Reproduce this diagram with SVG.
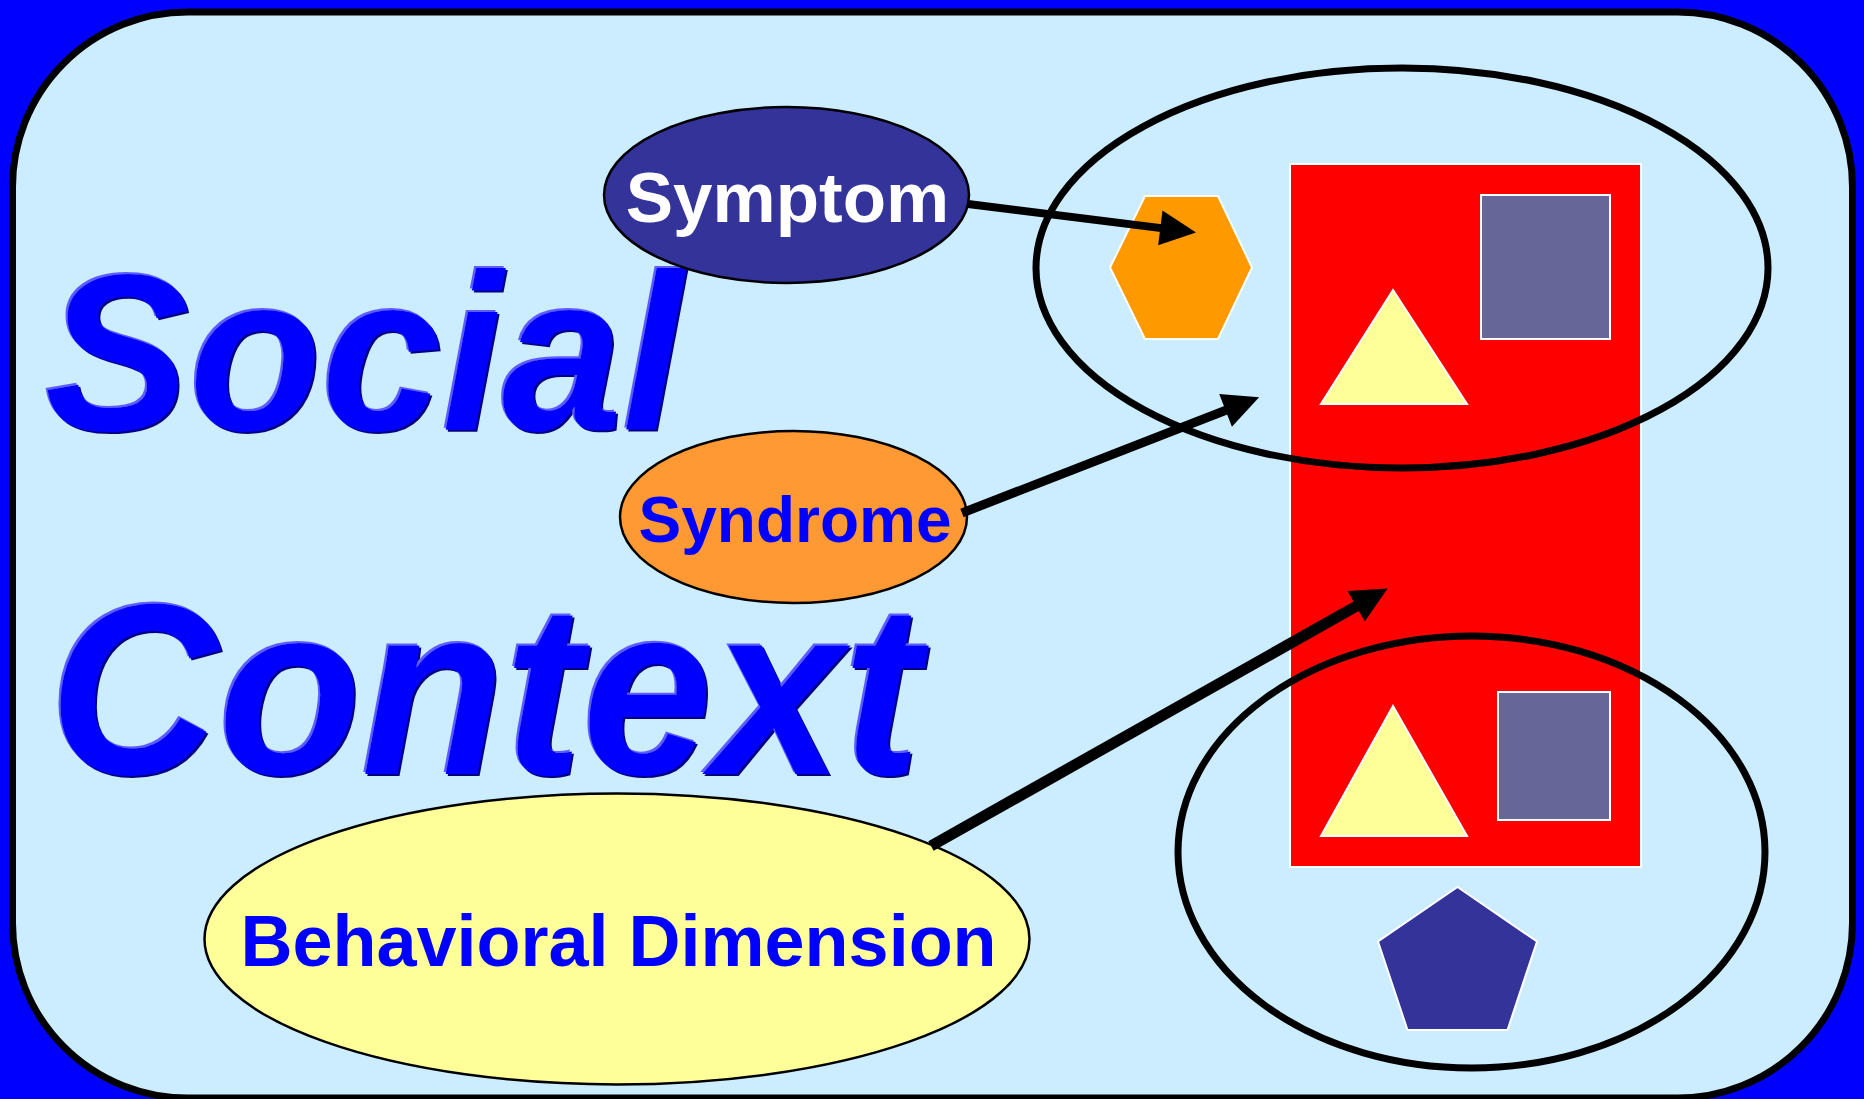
<svg xmlns="http://www.w3.org/2000/svg" width="1864" height="1099" viewBox="0 0 1864 1099">
  <style>
    .lbl { font-family: "Liberation Sans", Arial, sans-serif; font-weight: bold; text-anchor: middle; }
    .big { font-family: "Liberation Sans", Arial, sans-serif; font-weight: bold; font-style: italic; fill: #0000FF; filter: url(#emboss); }
    .ring { fill: none; stroke: #000000; stroke-width: 7; }
    .shape { stroke: #FFFFFF; stroke-width: 2; }
    .node { stroke: #000000; stroke-width: 2.5; }
    .conn { stroke: #000000; fill: none; stroke-linecap: butt; }
  </style>
  <defs>
    <marker id="head" markerUnits="userSpaceOnUse" markerWidth="37" markerHeight="36" refX="1" refY="17.5" orient="auto" overflow="visible">
      <path d="M0,0 L36,17.5 L0,35 Z" fill="#000000"/>
    </marker>
    <filter id="emboss" x="-5%" y="-10%" width="110%" height="120%">
      <feOffset in="SourceAlpha" dx="2" dy="2" result="d"/>
      <feFlood flood-color="#000080" result="dc"/>
      <feComposite in="dc" in2="d" operator="in" result="dark"/>
      <feOffset in="SourceAlpha" dx="-2" dy="-2" result="l"/>
      <feFlood flood-color="#5C5CFF" result="lc"/>
      <feComposite in="lc" in2="l" operator="in" result="light"/>
      <feMerge>
        <feMergeNode in="dark"/>
        <feMergeNode in="light"/>
        <feMergeNode in="SourceGraphic"/>
      </feMerge>
    </filter>
  </defs>

  <rect x="0" y="0" width="1864" height="1099" fill="#0000FF"/>
  <g id="frame">
    <rect x="12.5" y="12" width="1840" height="1086" rx="175" ry="175" fill="#CCECFF" stroke="#000000" stroke-width="7"/>
  </g>

  <g id="title">
    <g id="social" transform="translate(45,430) scale(0.975,1)">
      <text class="big" x="0" y="0" font-size="222">Social</text>
    </g>
    <g id="context" transform="translate(49,774) scale(0.96,1)">
      <text class="big" x="0" y="0" font-size="244">Context</text>
    </g>
  </g>

  <g id="red-block">
    <rect x="1290" y="164" width="351" height="703" fill="#FF0000" class="shape"/>
  </g>
  <g id="hexagon">
    <polygon points="1145,196 1218,196 1252,267.5 1218,339 1145,339 1110,267.5" fill="#FF9900" class="shape"/>
  </g>
  <g id="square-top">
    <rect x="1481" y="195" width="129" height="144" fill="#666699" class="shape"/>
  </g>
  <g id="triangle-top">
    <polygon points="1393,290 1467,404 1321,404" fill="#FFFF99" class="shape"/>
  </g>
  <g id="square-bottom">
    <rect x="1498" y="692" width="112" height="128" fill="#666699" class="shape"/>
  </g>
  <g id="triangle-bottom">
    <polygon points="1393,706 1467,836 1321,836" fill="#FFFF99" class="shape"/>
  </g>
  <g id="pentagon">
    <polygon points="1457.5,887 1537,941.5 1507.5,1030 1407.5,1030 1378,941.5" fill="#333399" class="shape"/>
  </g>
  <g id="ring-top">
    <ellipse cx="1402" cy="268" rx="366" ry="200" class="ring"/>
  </g>
  <g id="ring-bottom">
    <ellipse cx="1471.5" cy="852" rx="293.5" ry="216" class="ring"/>
  </g>

  <g id="symptom">
    <ellipse cx="786.5" cy="195" rx="182.5" ry="88" fill="#333399" class="node"/>
    <text class="lbl" x="787.5" y="222" font-size="71" fill="#FFFFFF">Symptom</text>
  </g>
  <g id="syndrome">
    <ellipse cx="793.5" cy="517" rx="173.5" ry="86" fill="#FF9933" class="node"/>
    <text class="lbl" x="795" y="542" font-size="64" fill="#0000FF">Syndrome</text>
  </g>
  <g id="behavioral">
    <ellipse cx="617" cy="939" rx="412.5" ry="145.5" fill="#FFFF99" class="node"/>
    <text class="lbl" x="618.5" y="966" font-size="72" fill="#0000FF">Behavioral Dimension</text>
  </g>

  <g id="connectors">
    <line class="conn" x1="968" y1="204" x2="1161.3" y2="228.1" stroke-width="8" marker-end="url(#head)"/>
    <line class="conn" x1="962" y1="513" x2="1226.5" y2="410" stroke-width="9" marker-end="url(#head)"/>
    <line class="conn" x1="931" y1="846" x2="1357.1" y2="605.7" stroke-width="11" marker-end="url(#head)"/>
  </g>
</svg>
